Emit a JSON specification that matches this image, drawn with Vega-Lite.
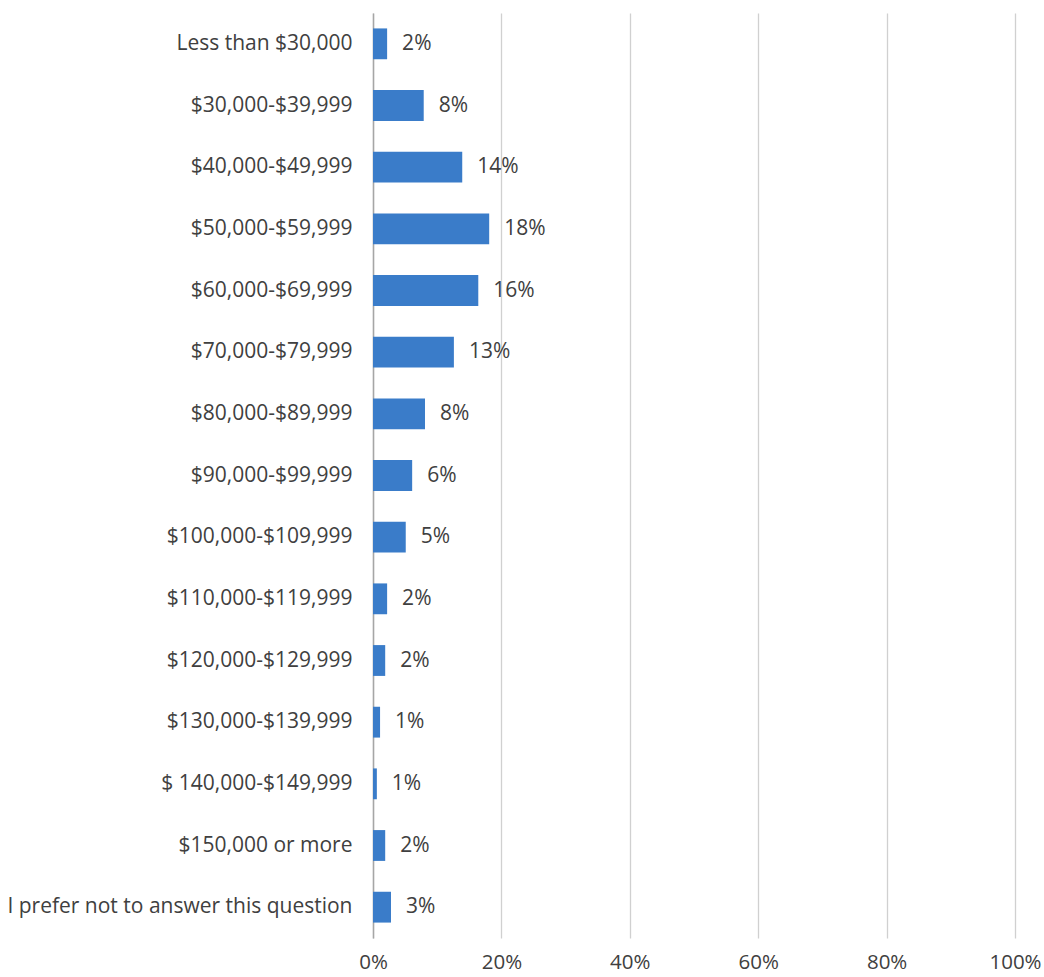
{
  "$schema": "https://vega.github.io/schema/vega-lite/v6.json",
  "autosize": {"type": "none"},
  "padding": {"left": 373, "top": 13, "right": 29, "bottom": 39},
  "width": 642,
  "height": 925,
  "background": "white",
  "config": {
    "view": {"stroke": null},
    "font": "Open Sans",
    "axis": {"labelFont": "Open Sans", "labelColor": "#404040", "labelFontSize": 21, "labelLimit": 400}
  },
  "data": {
    "values": [
      {"category": "Less than $30,000", "value": 0.022},
      {"category": "$30,000-$39,999", "value": 0.079},
      {"category": "$40,000-$49,999", "value": 0.139},
      {"category": "$50,000-$59,999", "value": 0.181},
      {"category": "$60,000-$69,999", "value": 0.164},
      {"category": "$70,000-$79,999", "value": 0.126},
      {"category": "$80,000-$89,999", "value": 0.081},
      {"category": "$90,000-$99,999", "value": 0.061},
      {"category": "$100,000-$109,999", "value": 0.051},
      {"category": "$110,000-$119,999", "value": 0.022},
      {"category": "$120,000-$129,999", "value": 0.019},
      {"category": "$130,000-$139,999", "value": 0.011},
      {"category": "$ 140,000-$149,999", "value": 0.006},
      {"category": "$150,000 or more", "value": 0.019},
      {"category": "I prefer not to answer this question", "value": 0.028}
    ]
  },
  "encoding": {
    "y": {
      "field": "category",
      "type": "nominal",
      "sort": null,
      "title": null,
      "scale": {"paddingInner": 0.5, "paddingOuter": 0.25},
      "axis": {
        "ticks": false,
        "domain": true,
        "domainColor": "#a6a6a6",
        "domainWidth": 1.5,
        "labelPadding": 21,
        "grid": false
      }
    },
    "x": {
      "field": "value",
      "type": "quantitative",
      "title": null,
      "scale": {"domain": [0, 1], "nice": false},
      "axis": {
        "format": ".0%",
        "values": [0, 0.2, 0.4, 0.6, 0.8, 1],
        "grid": true,
        "gridColor": "#d0d0d0",
        "gridWidth": 1.3,
        "domain": false,
        "ticks": false,
        "labelFlush": false,
        "labelFontSize": 20.5,
        "labelPadding": 14
      }
    }
  },
  "layer": [
    {"mark": {"type": "bar", "color": "#3a7cc9"}},
    {
      "mark": {"type": "text", "align": "left", "baseline": "middle", "dx": 15, "fontSize": 21, "color": "#404040", "font": "Open Sans"},
      "encoding": {"text": {"field": "value", "type": "quantitative", "format": ".0%"}}
    }
  ]
}
